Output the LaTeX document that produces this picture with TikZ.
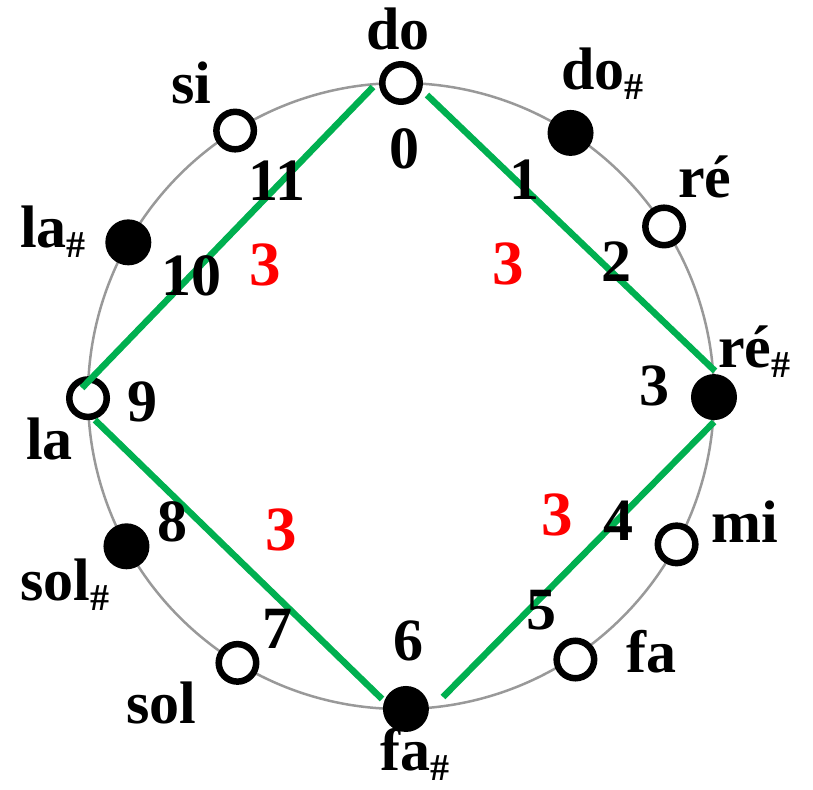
\documentclass[tikz,border=0pt]{standalone}
\usepackage{fontspec}
\setmainfont{Liberation Serif}
\usetikzlibrary{calc}
\definecolor{grn}{HTML}{00B050}
\definecolor{ringgray}{HTML}{999999}
\newcommand\shp{\raisebox{-10pt}{\fontsize{38}{38}\selectfont\#}}
\begin{document}
\begin{tikzpicture}[x=1pt, y=-1pt,
  font=\fontsize{60}{60}\selectfont\bfseries,
  lbl/.style={inner sep=0pt, anchor=base west},
  num/.style={inner sep=0pt},
  ival/.style={inner sep=0pt, text=red, font=\fontsize{63}{63}\selectfont\bfseries},
  hollow/.style={circle, draw=black, line width=6.5pt, fill=white, minimum size=37.5pt, inner sep=0pt},
  blackdot/.style={circle, fill=black, minimum size=46pt, inner sep=0pt},
  ring/.style={draw=ringgray, line width=2.5pt},
  greenline/.style={draw=grn, line width=6.5pt}]
\useasboundingbox (0,0) rectangle (813,789);
\coordinate (ctr) at (401,396);
% the circle
\draw[ring] (ctr) circle[radius=313];
% positions of the twelve pitch classes
\coordinate (c0) at ($(ctr)+(-90:313)$);
\coordinate (c1) at ($(ctr)+(-57.2:313)$);
\coordinate (c2) at ($(ctr)+(-32.8:313)$);
\coordinate (c3) at ($(ctr)+(0.2:313)$);
\coordinate (c4) at ($(ctr)+(28.3:313)$);
\coordinate (c5) at ($(ctr)+(56.5:316)$);
\coordinate (c6) at ($(ctr)+(89.1:313)$);
\coordinate (c7) at ($(ctr)+(121.5:313)$);
\coordinate (c8) at ($(ctr)+(151.3:313)$);
\coordinate (c9) at ($(ctr)+(179.6:313)$);
\coordinate (c10) at ($(ctr)+(209.4:313)$);
\coordinate (c11) at ($(ctr)+(238:313)$);
% dots
\node[hollow] (n0) at (c0) {};
\node[blackdot] (n1) at (c1) {};
\node[hollow] (n2) at (c2) {};
\node[blackdot] (n3) at (c3) {};
\node[hollow] (n4) at (c4) {};
\node[hollow] (n5) at (c5) {};
\node[blackdot] (n6) at (c6) {};
\node[hollow] (n7) at (c7) {};
\node[blackdot] (n8) at (c8) {};
\node[hollow] (n9) at (c9) {};
\node[blackdot] (n10) at (c10) {};
\node[hollow] (n11) at (c11) {};
% green square (ends)
\coordinate (g1a) at (373,87);  \coordinate (g1b) at (82,388);
\coordinate (g2a) at (427,95);  \coordinate (g2b) at (715,371);
\coordinate (g3a) at (95,420);  \coordinate (g3b) at (382,699);
\coordinate (g4a) at (443,697); \coordinate (g4b) at (714,422);
\draw[greenline] (g1a) -- (g1b);
\draw[greenline] (g2a) -- (g2b);
\draw[greenline] (g3a) -- (g3b);
\draw[greenline] (g4a) -- (g4b);
% numbers
\node[num] (t0) at (404,149) {0};
\node[num] (t1) at (524,180) {1};
\node[num] (t2) at (616,262) {2};
\node[num] (t3) at (654,386) {3};
\node[num] (t4) at (618,521) {4};
\node[num] (t5) at (541,610) {5};
\node[num] (t6) at (408,641) {6};
\node[num] (t7) at (277,629) {7};
\node[num] (t8) at (172,522) {8};
\node[num] (t9) at (142,402) {9};
\node[num] (t10) at (191,276) {10};
\node[num] (t11) at (277,181) {11};
% note names
\node[lbl] (l0) at (366,50) {do};
\node[lbl] (l1) at (561,90) {do\shp};
\node[lbl] (l2) at (678,197) {ré};
\node[lbl] (l3) at (718,367) {ré\shp};
\node[lbl] (l4) at (711,542) {mi};
\node[lbl] (l5) at (626,672) {fa};
\node[lbl] (l6) at (380,770) {fa\shp};
\node[lbl] (l7) at (126,723) {sol};
\node[lbl] (l8) at (20,600) {sol\shp};
\node[lbl] (l9) at (26,459) {la};
\node[lbl] (l10) at (20,247) {la\shp};
\node[lbl] (l11) at (171,103) {si};
% interval labels
\node[ival] (r1) at (265,265) {3};
\node[ival] (r2) at (508,264) {3};
\node[ival] (r3) at (281,530) {3};
\node[ival] (r4) at (557,515) {3};
\end{tikzpicture}
\end{document}
